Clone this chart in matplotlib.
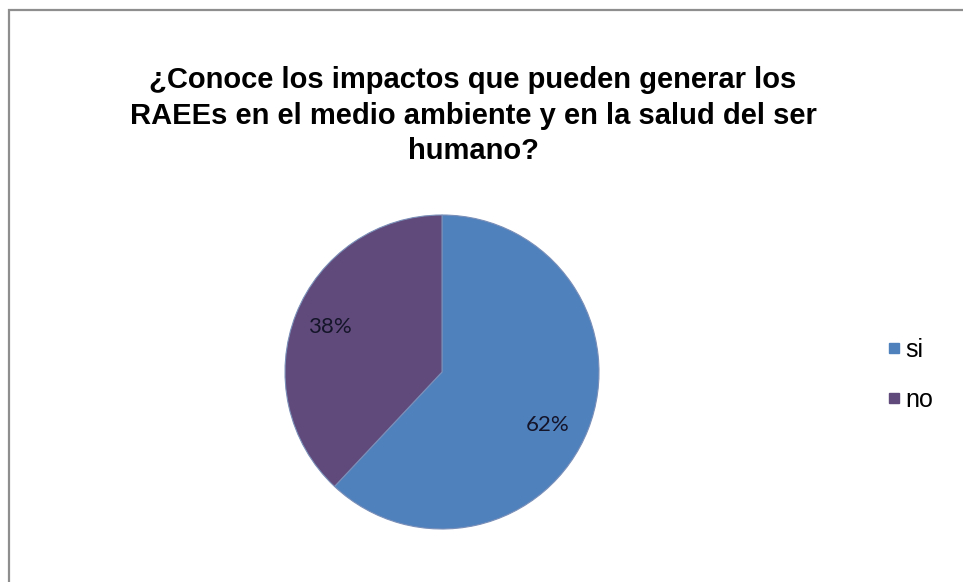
import matplotlib.pyplot as plt
from matplotlib.patches import Rectangle
from matplotlib.lines import Line2D

# respuestas de la encuesta
categorias = ["si", "no"]
porcentajes = [62, 38]
colores = ["#4F81BD", "#604A7B"]

titulo = ("¿Conoce los impactos que pueden generar los\n"
          "RAEEs en el medio ambiente y en la salud del ser\n"
          "humano?")

W, H = 963, 582
fig = plt.figure(figsize=(W / 100, H / 100), dpi=100)
fig.patch.set_facecolor("white")

# marco del grafico (se sale por la derecha y por abajo)
marco = Rectangle((8.5 / W, -0.2), 1.2, 0.2 + (H - 9.5) / H,
                  transform=fig.transFigure, fill=False,
                  edgecolor="#8e8e8e", linewidth=1.6)
fig.patches.append(marco)

fig.text(473 / W, 1 - 115.5 / H, titulo, ha="center", va="center",
         fontsize=21, fontweight="bold", family="Liberation Sans",
         linespacing=1.36, color="black")

# pastel
cx, cy, r = 442, 372, 157
ax = fig.add_axes([(cx - r) / W, 1 - (cy + r) / H, 2 * r / W, 2 * r / H])
wedges, textos, autotextos = ax.pie(
    porcentajes, colors=colores, startangle=90, counterclock=False,
    autopct="%d%%", pctdistance=0.77,
    wedgeprops=dict(linewidth=0.8, edgecolor="#7a8fb8"),
    textprops=dict(fontsize=16, family="Lato", color="#15152a"))
# la etiqueta del "si" va algo mas abajo que el centro angular
autotextos[0].set_position((0.67, -0.34))
ax.set_xlim(-1, 1)
ax.set_ylim(-1, 1)
ax.set_aspect("equal")
ax.axis("off")

# leyenda
manejadores = [Line2D([], [], marker="s", linestyle="none", markersize=7.5,
                      markerfacecolor=c, markeredgecolor=c) for c in colores]
fig.legend(manejadores, categorias, loc="center left",
           bbox_to_anchor=(865 / W, 1 - 375 / H), frameon=False,
           prop=dict(family="Liberation Sans", size=18),
           handlelength=0.5, handletextpad=0.2, labelspacing=1.05)

fig.savefig("out.png", dpi=100)
